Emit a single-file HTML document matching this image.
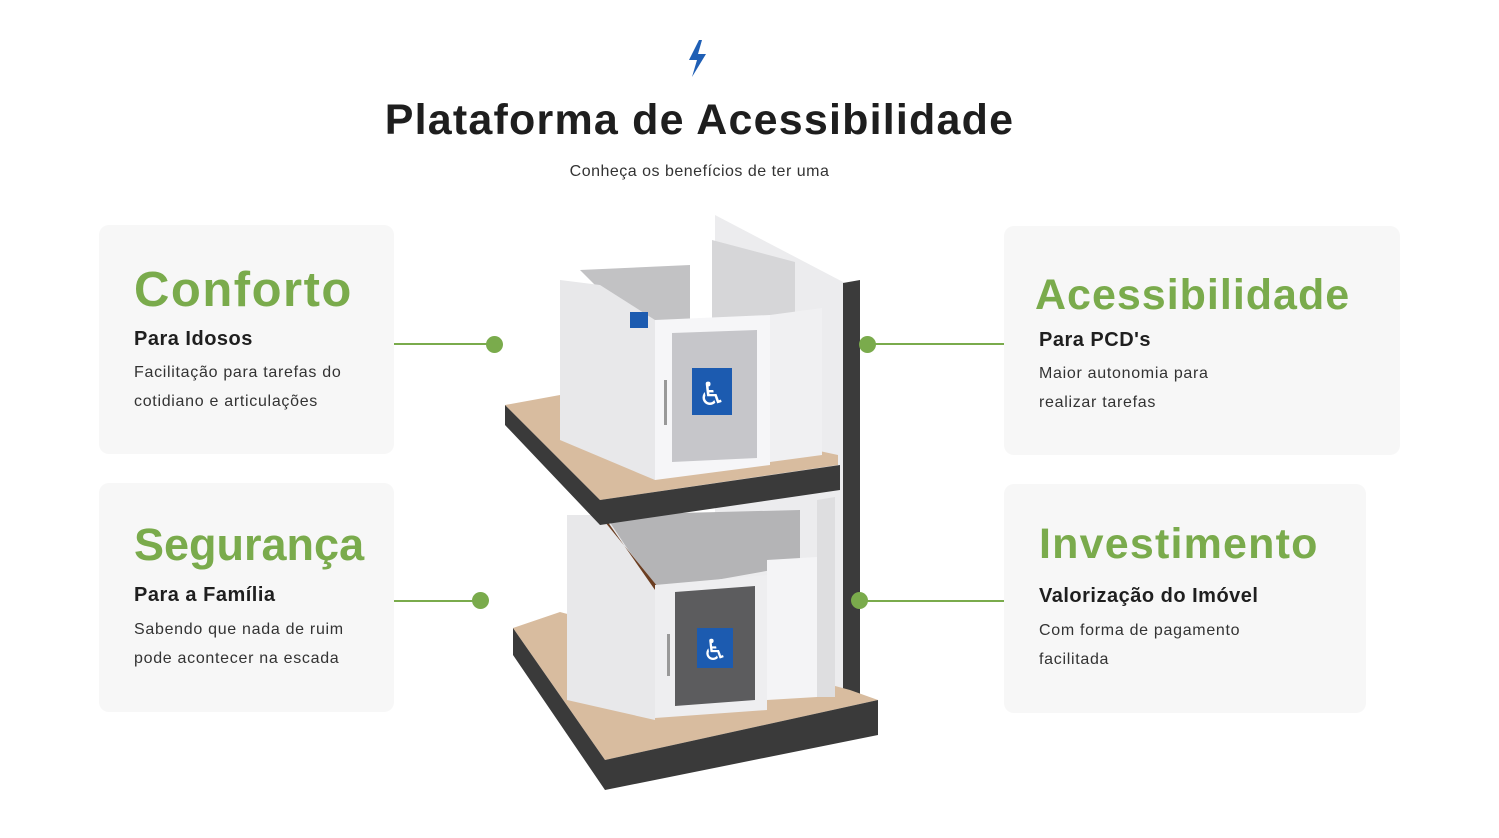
<!DOCTYPE html>
<html><head><meta charset="utf-8">
<style>
*{margin:0;padding:0;box-sizing:border-box}
body{width:1499px;height:838px;background:#fff;position:relative;overflow:hidden;font-family:"Liberation Sans",sans-serif;color:#222}
.abs{position:absolute}
.card{position:absolute;background:#f7f7f7;border-radius:10px}
.h{position:absolute;color:#7aab4c;font-weight:bold;white-space:nowrap}
.s{position:absolute;font-weight:bold;font-size:20px;color:#1f1f1f;white-space:nowrap;letter-spacing:0.5px}
.b{position:absolute;font-size:16px;line-height:29px;color:#333;white-space:nowrap;letter-spacing:0.7px}
.line{position:absolute;height:2px;background:#7aab4c}
.dot{position:absolute;width:17px;height:17px;border-radius:50%;background:#7aab4c}
</style></head><body>
<svg class="abs" style="left:686px;top:38px" width="26" height="40" viewBox="0 0 26 40"><polygon points="13,2 3,22 11,22 6,39 20,16 12,16 16,2" fill="#1f5fb5"/></svg>
<div class="abs" style="left:0;width:1399px;top:96px;text-align:center;font-size:43px;font-weight:bold;color:#1e1e1e;letter-spacing:1.2px">Plataforma de Acessibilidade</div>
<div class="abs" style="left:0;width:1399px;top:163px;text-align:center;font-size:16px;color:#333;letter-spacing:0.5px">Conheça os benefícios de ter uma</div>

<div class="card" style="left:99px;top:225px;width:295px;height:229px"></div>
<div class="h" style="left:134px;top:262px;font-size:49px;letter-spacing:1.5px">Conforto</div>
<div class="s" style="left:134px;top:328px">Para Idosos</div>
<div class="b" style="left:134px;top:358px">Facilitação para tarefas do<br>cotidiano e articulações</div>

<div class="card" style="left:99px;top:483px;width:295px;height:229px"></div>
<div class="h" style="left:134px;top:519px;font-size:45px;letter-spacing:0px">Segurança</div>
<div class="s" style="left:134px;top:584px">Para a Família</div>
<div class="b" style="left:134px;top:615px">Sabendo que nada de ruim<br>pode acontecer na escada</div>

<div class="card" style="left:1004px;top:226px;width:396px;height:229px"></div>
<div class="h" style="left:1035px;top:271px;font-size:43px;letter-spacing:1px">Acessibilidade</div>
<div class="s" style="left:1039px;top:329px">Para PCD's</div>
<div class="b" style="left:1039px;top:359px">Maior autonomia para<br>realizar tarefas</div>

<div class="card" style="left:1004px;top:484px;width:362px;height:229px"></div>
<div class="h" style="left:1039px;top:520px;font-size:43px;letter-spacing:1.2px">Investimento</div>
<div class="s" style="left:1039px;top:585px">Valorização do Imóvel</div>
<div class="b" style="left:1039px;top:616px">Com forma de pagamento<br>facilitada</div>

<svg class="abs" style="left:0;top:0" width="1499" height="838">
<polygon points="715,215 845,283 845,700 715,700" fill="#ececee"/>
<polygon points="843,283 860,280 860,700 843,705" fill="#3b3b3b"/>
<!-- lower slab -->
<polygon points="513,628 560,612 850,690 878,700 605,760" fill="#d8bc9f"/>
<polygon points="513,628 605,760 878,700 878,735 605,790 513,655" fill="#3a3a3a"/>
<!-- lower cabin -->
<polygon points="600,515 800,510 800,565 660,590" fill="#b4b4b6"/>
<polygon points="567,515 605,515 655,590 655,720 567,700" fill="#e8e8ea"/>
<polygon points="605,518 655,590 660,596 662,592 605,522" fill="#6b3e22"/>
<polygon points="655,585 767,575 767,710 655,718" fill="#eeeef0"/>
<polygon points="675,592 755,586 755,700 675,706" fill="#5c5c5e"/>
<rect x="667" y="634" width="3" height="42" fill="#999"/>
<polygon points="767,560 817,557 817,697 767,700" fill="#f4f4f6"/>
<polygon points="817,500 835,497 835,697 817,697" fill="#dedee0"/>
<rect x="697" y="628" width="36" height="40" fill="#1c5bb0"/>
<text x="715" y="660" font-size="29" fill="#fff" text-anchor="middle" font-family="DejaVu Sans">♿</text>
<!-- upper slab -->
<polygon points="505,405 560,395 838,455 838,465 600,500" fill="#d8bc9f"/>
<polygon points="505,405 600,500 840,465 840,490 600,525 505,425" fill="#3a3a3a"/>
<!-- upper cabin -->
<polygon points="712,240 795,262 795,320 712,320" fill="#d6d6d8"/>
<polygon points="580,270 690,265 690,320 640,320 600,290" fill="#c2c2c4"/>
<polygon points="560,280 600,285 655,320 655,480 560,440" fill="#e8e8ea"/>
<polygon points="655,320 770,315 770,465 655,480" fill="#f6f6f8"/>
<polygon points="672,333 757,330 757,458 672,462" fill="#c6c6ca"/>
<rect x="664" y="380" width="3" height="45" fill="#999"/>
<polygon points="770,315 822,308 822,455 770,462" fill="#f0f0f2"/>
<rect x="692" y="368" width="40" height="47" fill="#1c5bb0"/>
<text x="712" y="405" font-size="32" fill="#fff" text-anchor="middle" font-family="DejaVu Sans">♿</text>
<rect x="630" y="312" width="18" height="16" fill="#1c5bb0"/>
</svg>

<div class="line" style="left:394px;top:343px;width:100px"></div><div class="dot" style="left:486px;top:336px"></div>
<div class="line" style="left:394px;top:600px;width:86px"></div><div class="dot" style="left:472px;top:592px"></div>
<div class="line" style="left:867px;top:343px;width:137px"></div><div class="dot" style="left:859px;top:336px"></div>
<div class="line" style="left:859px;top:600px;width:145px"></div><div class="dot" style="left:851px;top:592px"></div>
</body></html>
